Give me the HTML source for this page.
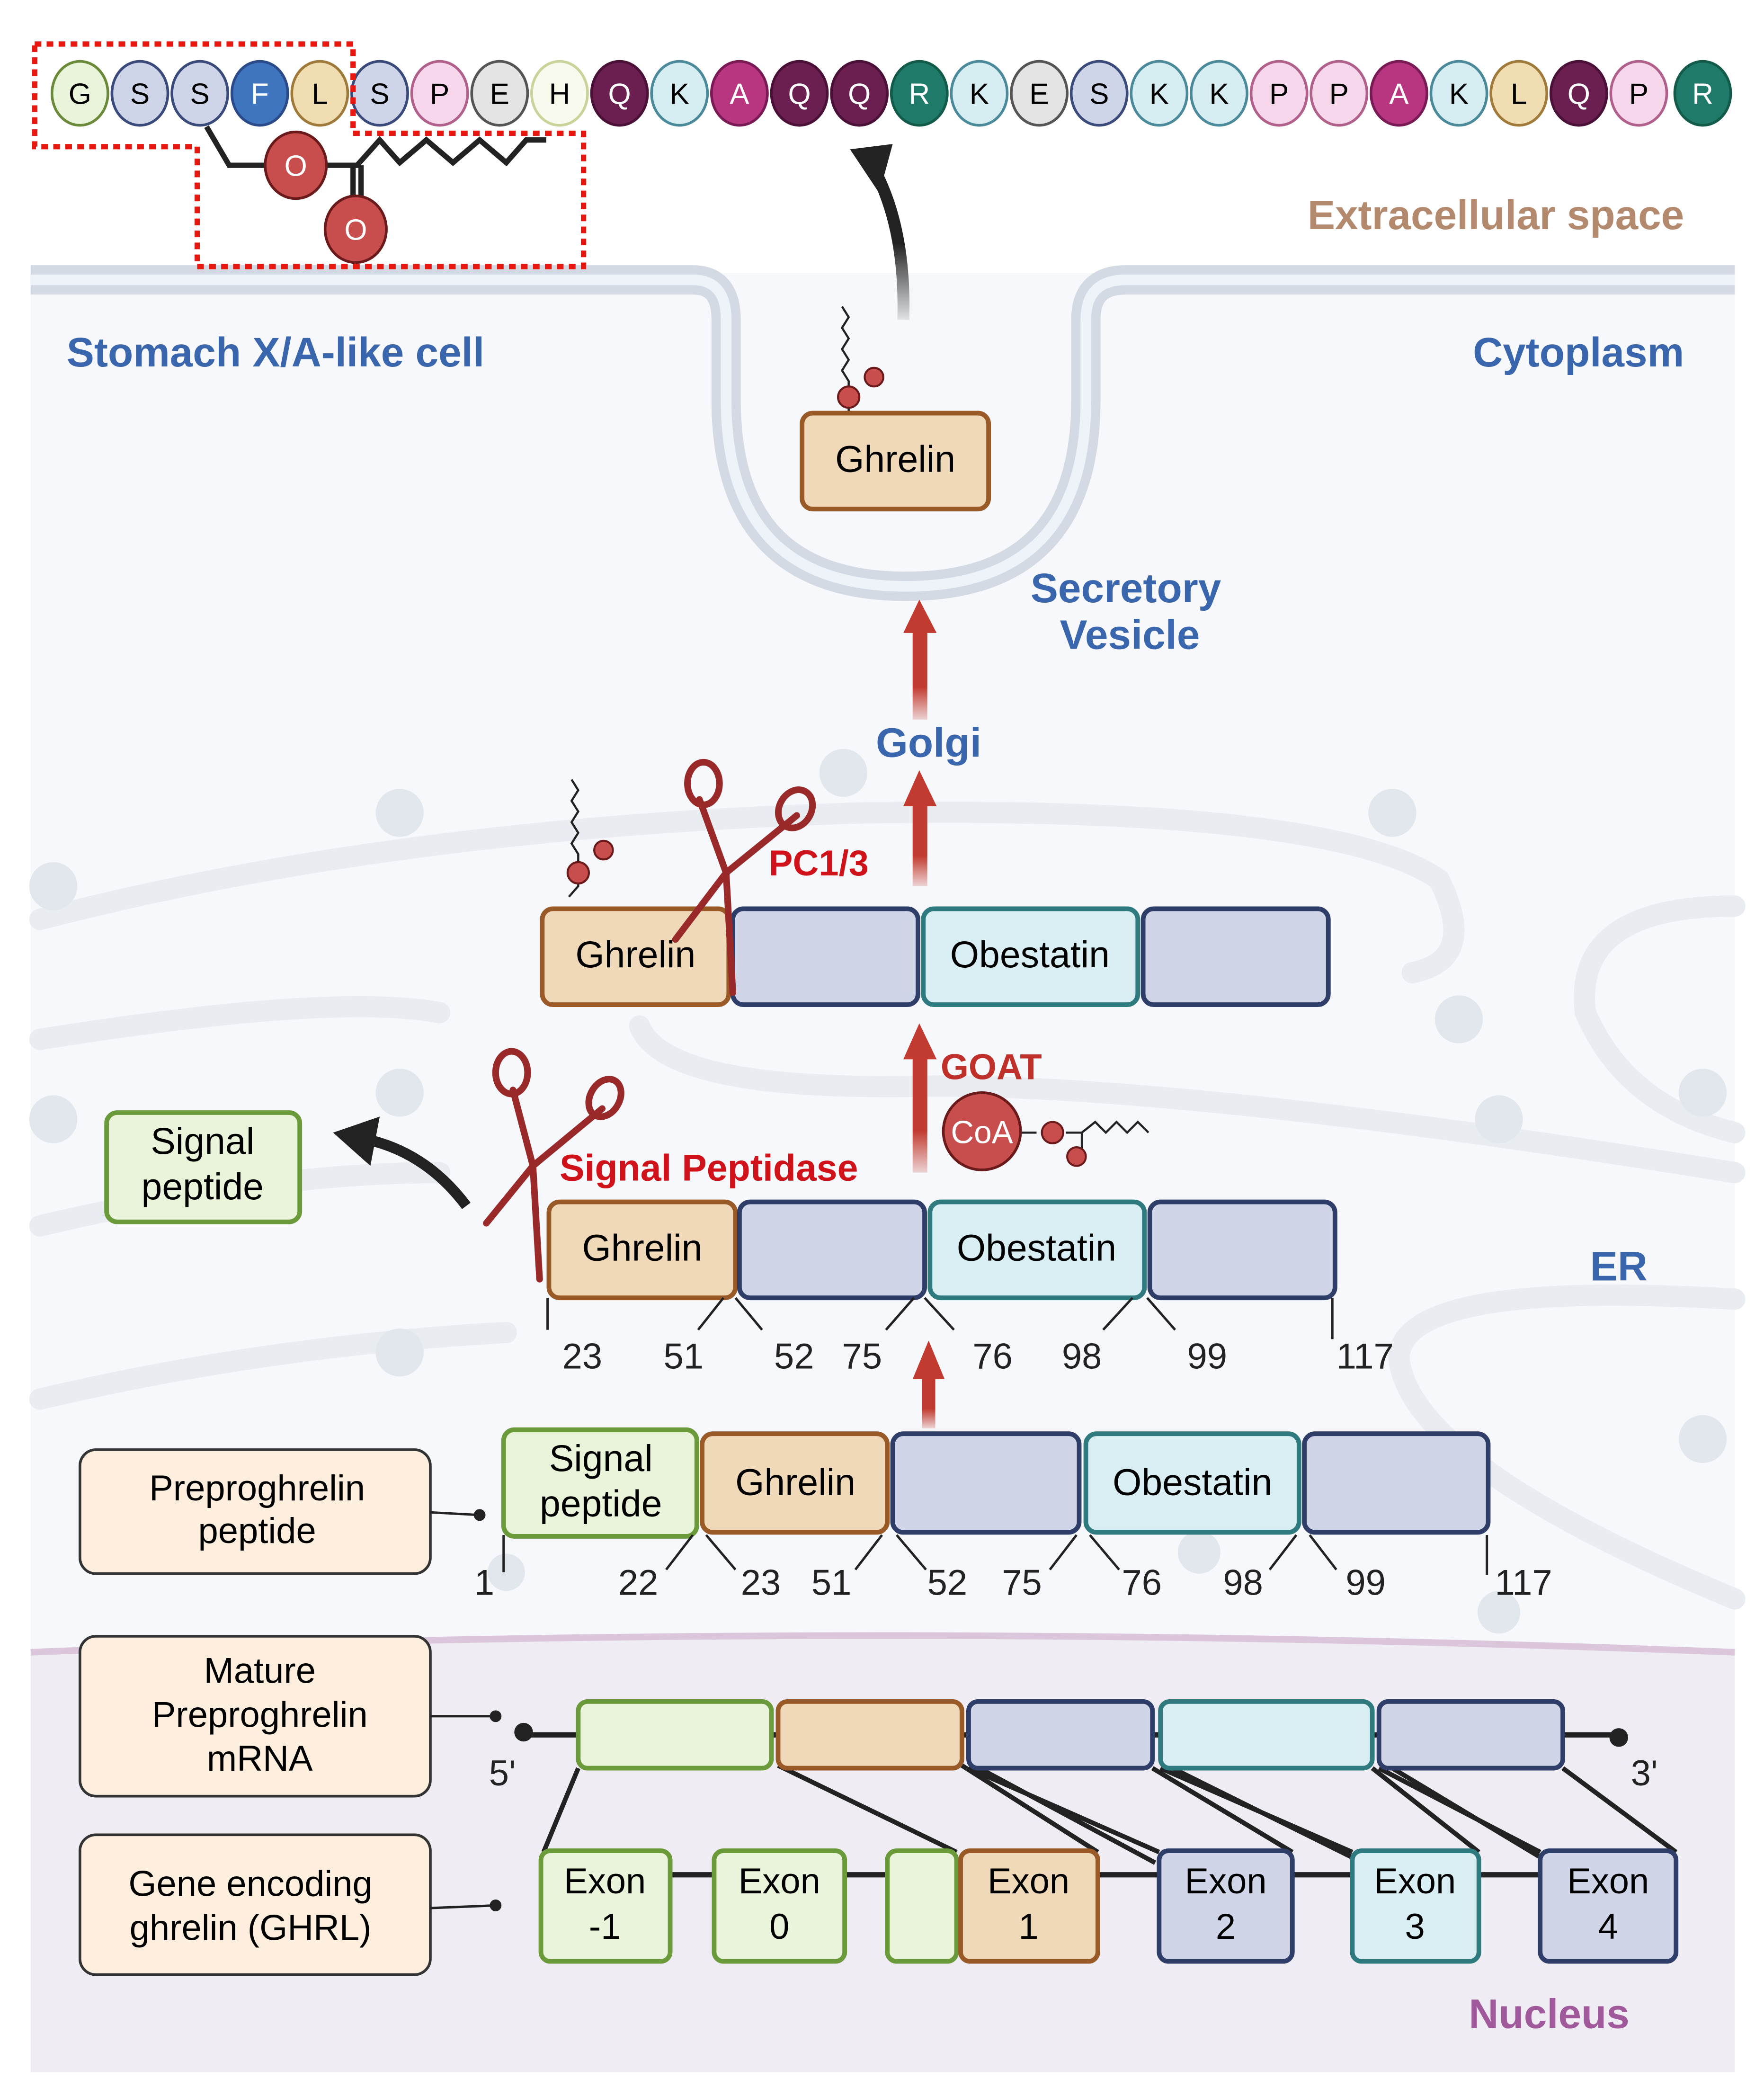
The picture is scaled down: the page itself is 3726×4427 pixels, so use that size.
<!DOCTYPE html>
<html><head><meta charset="utf-8"><style>
html,body{margin:0;padding:0;background:#fff}
svg{display:block}
text{font-family:"Liberation Sans",sans-serif}
</style></head><body>
<svg width="3726" height="4427" viewBox="0 0 1324 1573" xmlns="http://www.w3.org/2000/svg">
<defs>
<linearGradient id="ra" x1="0" y1="1" x2="0" y2="0"><stop offset="0" stop-color="#c23b30" stop-opacity="0.2"/><stop offset="0.35" stop-color="#c23b30"/></linearGradient>
<linearGradient id="ba" x1="0" y1="1" x2="0" y2="0"><stop offset="0" stop-color="#222" stop-opacity="0.1"/><stop offset="0.5" stop-color="#222"/></linearGradient>
</defs>
<!-- cell -->
<rect x="23" y="205" width="1279" height="1350" fill="#f6f8fb"/>
<path d="M23 1240 Q660 1215 1302 1240 L1302 1555 L23 1555Z" fill="#efedf3"/>
<path d="M23 1240 Q660 1215 1302 1240" fill="none" stroke="#dcc6db" stroke-width="5"/>
<!-- membrane -->
<path d="M23 210 L520 210 Q545 210 545 240 L545 300 Q545 440 680 440 Q815 440 815 300 L815 240 Q815 210 845 210 L1302 210" fill="none" stroke="#d3dae3" stroke-width="22"/>
<path d="M23 210 L520 210 Q545 210 545 240 L545 300 Q545 440 680 440 Q815 440 815 300 L815 240 Q815 210 845 210 L1302 210" fill="none" stroke="#eef3fa" stroke-width="8"/>
<!-- golgi / ER curves -->
<g fill="none" stroke="#e9ecf1" stroke-width="16" stroke-linecap="round">
<path d="M30 690 Q300 620 650 610 Q1000 605 1080 660 Q1110 720 1060 730"/>
<path d="M30 780 Q250 745 330 760"/>
<path d="M30 920 Q200 880 330 880"/>
<path d="M480 770 Q500 820 700 815 Q900 815 1302 880"/>
<path d="M30 1050 Q200 1010 380 1000"/>
<path d="M1302 680 Q1180 680 1190 760 Q1220 830 1302 850"/>
<path d="M1302 975 Q1050 960 1050 1020 Q1060 1100 1302 1200"/>
</g>
<g fill="#e2e7ee">
<circle cx="300" cy="610" r="18"/><circle cx="633" cy="580" r="18"/><circle cx="1045" cy="610" r="18"/><circle cx="40" cy="665" r="18"/>
<circle cx="300" cy="820" r="18"/><circle cx="40" cy="840" r="18"/><circle cx="1095" cy="765" r="18"/><circle cx="1125" cy="840" r="18"/><circle cx="1278" cy="820" r="18"/>
<circle cx="300" cy="1015" r="18"/><circle cx="1278" cy="1080" r="18"/><circle cx="380" cy="1180" r="14"/><circle cx="900" cy="1165" r="16"/><circle cx="1125" cy="1210" r="16"/>
</g>
<!-- labels -->
<text x="1264" y="172" text-anchor="end" font-size="31" font-weight="bold" fill="#b48a6e">Extracellular space</text>
<text x="50" y="275" font-size="31" font-weight="bold" fill="#3a66ad">Stomach X/A-like cell</text>
<text x="1264" y="275" text-anchor="end" font-size="31" font-weight="bold" fill="#3a66ad">Cytoplasm</text>
<text x="845" y="452" text-anchor="middle" font-size="31" font-weight="bold" fill="#3a66ad">Secretory</text>
<text x="848" y="487" text-anchor="middle" font-size="31" font-weight="bold" fill="#3a66ad">Vesicle</text>
<text x="697" y="568" text-anchor="middle" font-size="31" font-weight="bold" fill="#3a66ad">Golgi</text>
<text x="1215" y="961" text-anchor="middle" font-size="31" font-weight="bold" fill="#3a66ad">ER</text>
<text x="1223" y="1522" text-anchor="end" font-size="31" font-weight="bold" fill="#a05a9c">Nucleus</text>
<!-- amino acids -->
<g font-size="22" text-anchor="middle">
<g id="aa"></g>
</g>
<g stroke-width="2" font-size="22" text-anchor="middle">
<ellipse cx="60" cy="70" rx="21" ry="24" fill="#e9f4da" stroke="#6a8a3a"/><text x="60" y="78">G</text>
<ellipse cx="105" cy="70" rx="21" ry="24" fill="#cfd5e8" stroke="#3a4a7a"/><text x="105" y="78">S</text>
<ellipse cx="150" cy="70" rx="21" ry="24" fill="#cfd5e8" stroke="#3a4a7a"/><text x="150" y="78">S</text>
<ellipse cx="195" cy="70" rx="21" ry="24" fill="#3f74bf" stroke="#2a4a8a"/><text x="195" y="78" fill="#fff">F</text>
<ellipse cx="240" cy="70" rx="21" ry="24" fill="#f0deb2" stroke="#a07a3a"/><text x="240" y="78">L</text>
<ellipse cx="285" cy="70" rx="21" ry="24" fill="#cfd5e8" stroke="#3a4a7a"/><text x="285" y="78">S</text>
<ellipse cx="330" cy="70" rx="21" ry="24" fill="#f6d7ec" stroke="#b0608a"/><text x="330" y="78">P</text>
<ellipse cx="375" cy="70" rx="21" ry="24" fill="#e4e4e4" stroke="#555"/><text x="375" y="78">E</text>
<ellipse cx="420" cy="70" rx="21" ry="24" fill="#f8faee" stroke="#c8d49a"/><text x="420" y="78">H</text>
<ellipse cx="465" cy="70" rx="21" ry="24" fill="#6a1f50" stroke="#4a1038"/><text x="465" y="78" fill="#fff">Q</text>
<ellipse cx="510" cy="70" rx="21" ry="24" fill="#d6eef2" stroke="#4a8a9a"/><text x="510" y="78">K</text>
<ellipse cx="555" cy="70" rx="21" ry="24" fill="#b8357f" stroke="#7a1a55"/><text x="555" y="78" fill="#fff">A</text>
<ellipse cx="600" cy="70" rx="21" ry="24" fill="#6a1f50" stroke="#4a1038"/><text x="600" y="78" fill="#fff">Q</text>
<ellipse cx="645" cy="70" rx="21" ry="24" fill="#6a1f50" stroke="#4a1038"/><text x="645" y="78" fill="#fff">Q</text>
<ellipse cx="690" cy="70" rx="21" ry="24" fill="#1f7a6a" stroke="#125a4a"/><text x="690" y="78" fill="#fff">R</text>
<ellipse cx="735" cy="70" rx="21" ry="24" fill="#d6eef2" stroke="#4a8a9a"/><text x="735" y="78">K</text>
<ellipse cx="780" cy="70" rx="21" ry="24" fill="#e4e4e4" stroke="#555"/><text x="780" y="78">E</text>
<ellipse cx="825" cy="70" rx="21" ry="24" fill="#cfd5e8" stroke="#3a4a7a"/><text x="825" y="78">S</text>
<ellipse cx="870" cy="70" rx="21" ry="24" fill="#d6eef2" stroke="#4a8a9a"/><text x="870" y="78">K</text>
<ellipse cx="915" cy="70" rx="21" ry="24" fill="#d6eef2" stroke="#4a8a9a"/><text x="915" y="78">K</text>
<ellipse cx="960" cy="70" rx="21" ry="24" fill="#f6d7ec" stroke="#b0608a"/><text x="960" y="78">P</text>
<ellipse cx="1005" cy="70" rx="21" ry="24" fill="#f6d7ec" stroke="#b0608a"/><text x="1005" y="78">P</text>
<ellipse cx="1050" cy="70" rx="21" ry="24" fill="#b8357f" stroke="#7a1a55"/><text x="1050" y="78" fill="#fff">A</text>
<ellipse cx="1095" cy="70" rx="21" ry="24" fill="#d6eef2" stroke="#4a8a9a"/><text x="1095" y="78">K</text>
<ellipse cx="1140" cy="70" rx="21" ry="24" fill="#f0deb2" stroke="#a07a3a"/><text x="1140" y="78">L</text>
<ellipse cx="1185" cy="70" rx="21" ry="24" fill="#6a1f50" stroke="#4a1038"/><text x="1185" y="78" fill="#fff">Q</text>
<ellipse cx="1230" cy="70" rx="21" ry="24" fill="#f6d7ec" stroke="#b0608a"/><text x="1230" y="78">P</text>
<ellipse cx="1278" cy="70" rx="21" ry="24" fill="#1f7a6a" stroke="#125a4a"/><text x="1278" y="78" fill="#fff">R</text>
</g>
<!-- red dotted boxes -->
<g fill="none" stroke="#e8170f" stroke-width="4" stroke-dasharray="5 4">
<path d="M26 33 L265 33 L265 100 L438 100 L438 200 L148 200 L148 110 L26 110 Z"/>
</g>
<!-- octanoyl -->
<g stroke="#222" stroke-width="4" fill="none">
<path d="M155 95 L172 124 L205 124 M240 124 L268 124 L285 105 L300 122 L320 105 L340 122 L360 105 L380 122 L395 105 L410 105"/>
<path d="M265 124 L265 150 M271 124 L271 150"/>
</g>
<g font-size="22" text-anchor="middle" fill="#fff">
<ellipse cx="222" cy="124" rx="23" ry="25" fill="#c84e4e" stroke="#6a1a1a" stroke-width="2"/><text x="222" y="132">O</text>
<ellipse cx="267" cy="172" rx="23" ry="25" fill="#c84e4e" stroke="#6a1a1a" stroke-width="2"/><text x="267" y="180">O</text>
</g>
<!-- black curved arrow up -->
<path d="M678 240 Q680 170 655 125" fill="none" stroke="url(#ba)" stroke-width="9"/>
<path d="M638 112 L670 108 L660 145Z" fill="#222"/>
<path d="M350 905 Q320 865 275 855" fill="none" stroke="#222" stroke-width="8"/>
<path d="M250 850 L285 838 L278 875Z" fill="#222"/>
<!-- small chains -->
<g stroke="#222" stroke-width="1.6" fill="none">
<path d="M632 230 l5 8 -5 8 5 8 -5 8 5 8 -5 8 5 8 0 14 M637 298 l0 12 -7 8"/>
<path d="M429 585 l5 8 -5 8 5 8 -5 8 5 8 -5 8 5 8 0 14 M434 653 l0 12 -7 8"/>
<path d="M766 850 l12 0 M800 850 l12 0 l10 -8 8 8 8 -8 8 8 8 -8 8 8 M812 850 l0 12"/>
</g>
<g fill="#c84e4e" stroke="#6a1a1a" stroke-width="1.5" font-size="9" text-anchor="middle">
<circle cx="656" cy="283" r="7"/><circle cx="637" cy="298" r="8"/>
<circle cx="453" cy="638" r="7"/><circle cx="434" cy="655" r="8"/>
<circle cx="790" cy="850" r="8"/><circle cx="808" cy="868" r="7"/>
</g>
<!-- CoA -->
<circle cx="737" cy="849" r="29" fill="#c84e4e" stroke="#6a1a1a" stroke-width="2"/>
<text x="737" y="858" text-anchor="middle" font-size="24" fill="#fff">CoA</text>
<!-- red arrows -->
<g fill="url(#ra)">
<rect x="685" y="470" width="11" height="70"/><rect x="685" y="600" width="11" height="65"/>
<rect x="685" y="790" width="11" height="90"/><rect x="692" y="1030" width="10" height="42"/>
</g>
<g fill="#c23b30">
<path d="M678 475 L690 450 L703 475Z"/><path d="M678 605 L690 578 L703 605Z"/>
<path d="M678 795 L690 768 L703 795Z"/><path d="M685 1035 L697 1006 L709 1035Z"/>
</g>
<text x="706" y="810" font-size="27" font-weight="bold" fill="#c0302a">GOAT</text>
<text x="577" y="657" font-size="27" font-weight="bold" fill="#d0121a">PC1/3</text>
<text x="420" y="886" font-size="28" font-weight="bold" fill="#d0121a">Signal Peptidase</text>
<!-- vesicle ghrelin -->
<g font-size="28" text-anchor="middle" stroke-width="3.5">
<rect x="602" y="310" width="140" height="72" rx="8" fill="#f0d9b8" stroke="#9a5a28"/><text x="672" y="354">Ghrelin</text>
<!-- row1 -->
<rect x="407" y="682" width="140" height="72" rx="8" fill="#f0d9b8" stroke="#9a5a28"/><text x="477" y="726">Ghrelin</text>
<rect x="550" y="682" width="139" height="72" rx="8" fill="#d0d5e8" stroke="#2f3e68"/>
<rect x="693" y="682" width="161" height="72" rx="8" fill="#d9eff4" stroke="#2e7a7e"/><text x="773" y="726">Obestatin</text>
<rect x="858" y="682" width="139" height="72" rx="8" fill="#d0d5e8" stroke="#2f3e68"/>
<!-- row2 -->
<rect x="412" y="902" width="140" height="72" rx="8" fill="#f0d9b8" stroke="#9a5a28"/><text x="482" y="946">Ghrelin</text>
<rect x="555" y="902" width="139" height="72" rx="8" fill="#d0d5e8" stroke="#2f3e68"/>
<rect x="698" y="902" width="161" height="72" rx="8" fill="#d9eff4" stroke="#2e7a7e"/><text x="778" y="946">Obestatin</text>
<rect x="863" y="902" width="139" height="72" rx="8" fill="#d0d5e8" stroke="#2f3e68"/>
<!-- row3 -->
<rect x="378" y="1073" width="145" height="80" rx="8" fill="#eaf4da" stroke="#6a9a3a"/><text x="451" y="1104">Signal</text><text x="451" y="1138">peptide</text>
<rect x="527" y="1076" width="139" height="74" rx="8" fill="#f0d9b8" stroke="#9a5a28"/><text x="597" y="1122">Ghrelin</text>
<rect x="670" y="1076" width="140" height="74" rx="8" fill="#d0d5e8" stroke="#2f3e68"/>
<rect x="815" y="1076" width="160" height="74" rx="8" fill="#d9eff4" stroke="#2e7a7e"/><text x="895" y="1122">Obestatin</text>
<rect x="979" y="1076" width="138" height="74" rx="8" fill="#d0d5e8" stroke="#2f3e68"/>
<!-- left signal peptide -->
<rect x="80" y="835" width="145" height="82" rx="8" fill="#eaf4da" stroke="#6a9a3a"/><text x="152" y="866">Signal</text><text x="152" y="900">peptide</text>
<!-- left label boxes -->
<g fill="#fdeedd" stroke="#333" stroke-width="2">
<rect x="60" y="1088" width="263" height="93" rx="12"/>
<rect x="60" y="1228" width="263" height="120" rx="12"/>
<rect x="60" y="1377" width="263" height="105" rx="12"/>
</g>
<text x="193" y="1126" font-size="27">Preproghrelin</text><text x="193" y="1158" font-size="27">peptide</text>
<text x="195" y="1263" font-size="27">Mature</text><text x="195" y="1296" font-size="27">Preproghrelin</text><text x="195" y="1329" font-size="27">mRNA</text>
<text x="188" y="1423" font-size="27">Gene encoding</text><text x="188" y="1456" font-size="27">ghrelin (GHRL)</text>
</g>
<g stroke="#222" stroke-width="1.8" fill="#222">
<path d="M323 1135 L360 1137"/><circle cx="360" cy="1137" r="3.5"/>
<path d="M323 1288 L372 1288"/><circle cx="372" cy="1288" r="3.5"/>
<path d="M323 1432 L372 1430"/><circle cx="372" cy="1430" r="3.5"/>
</g>
<!-- tick marks row2 -->
<g stroke="#222" stroke-width="1.8" fill="none">
<path d="M411 974 L411 998"/><path d="M543 974 L524 998 M552 974 L572 998"/>
<path d="M686 974 L665 998 M694 974 L716 998"/><path d="M850 974 L828 998 M861 974 L882 998"/><path d="M1000 974 L1000 1005"/>
<path d="M378 1152 L378 1180"/><path d="M520 1152 L500 1178 M530 1152 L552 1178"/>
<path d="M662 1152 L642 1178 M673 1152 L695 1178"/><path d="M808 1152 L788 1178 M818 1152 L840 1178"/>
<path d="M973 1152 L953 1178 M983 1152 L1003 1178"/><path d="M1116 1152 L1116 1182"/>
</g>
<g font-size="27" fill="#222">
<text x="422" y="1027">23</text><text x="498" y="1027">51</text><text x="581" y="1027">52</text><text x="632" y="1027">75</text>
<text x="730" y="1027">76</text><text x="797" y="1027">98</text><text x="891" y="1027">99</text><text x="1003" y="1027">117</text>
<text x="356" y="1197">1</text><text x="464" y="1197">22</text><text x="556" y="1197">23</text><text x="609" y="1197">51</text>
<text x="696" y="1197">52</text><text x="752" y="1197">75</text><text x="842" y="1197">76</text><text x="918" y="1197">98</text>
<text x="1010" y="1197">99</text><text x="1122" y="1197">117</text>
<text x="367" y="1340">5'</text><text x="1224" y="1340">3'</text>
</g>
<!-- mRNA -->
<path d="M393 1302 L1215 1302" stroke="#222" stroke-width="4"/>
<circle cx="393" cy="1300" r="7" fill="#222"/><circle cx="1215" cy="1304" r="7" fill="#222"/>
<!-- gene line and connectors -->
<path d="M503 1407 L536 1407 M634 1407 L666 1407 M824 1407 L870 1407 M970 1407 L1015 1407 M1110 1407 L1156 1407" stroke="#222" stroke-width="4"/>
<g stroke="#222" stroke-width="3.5" fill="none">
<path d="M434 1327 L408 1390"/><path d="M584 1325 L718 1390"/><path d="M722 1325 L824 1390"/>
<path d="M727 1327 L870 1390 M735 1327 L867 1398 M865 1327 L970 1390"/>
<path d="M871 1327 L1015 1390 M880 1327 L1017 1395 M1030 1327 L1110 1390"/>
<path d="M1035 1327 L1156 1390 M1045 1327 L1158 1395 M1173 1327 L1258 1390"/>
</g>
<g stroke-width="3.5" font-size="27" text-anchor="middle">
<rect x="434" y="1277" width="145" height="50" rx="7" fill="#eaf4da" stroke="#6a9a3a"/>
<rect x="584" y="1277" width="138" height="50" rx="7" fill="#f0d9b8" stroke="#9a5a28"/>
<rect x="727" y="1277" width="138" height="50" rx="7" fill="#d0d5e8" stroke="#2f3e68"/>
<rect x="871" y="1277" width="159" height="50" rx="7" fill="#d9eff4" stroke="#2e7a7e"/>
<rect x="1035" y="1277" width="138" height="50" rx="7" fill="#d0d5e8" stroke="#2f3e68"/>
<rect x="406" y="1389" width="97" height="83" rx="7" fill="#eaf4da" stroke="#6a9a3a"/><text x="454" y="1421">Exon</text><text x="454" y="1455">-1</text>
<rect x="536" y="1389" width="98" height="83" rx="7" fill="#eaf4da" stroke="#6a9a3a"/><text x="585" y="1421">Exon</text><text x="585" y="1455">0</text>
<rect x="666" y="1389" width="52" height="83" rx="7" fill="#eaf4da" stroke="#6a9a3a"/>
<rect x="721" y="1389" width="103" height="83" rx="7" fill="#f0d9b8" stroke="#9a5a28"/><text x="772" y="1421">Exon</text><text x="772" y="1455">1</text>
<rect x="870" y="1389" width="100" height="83" rx="7" fill="#d0d5e8" stroke="#2f3e68"/><text x="920" y="1421">Exon</text><text x="920" y="1455">2</text>
<rect x="1015" y="1389" width="95" height="83" rx="7" fill="#d9eff4" stroke="#2e7a7e"/><text x="1062" y="1421">Exon</text><text x="1062" y="1455">3</text>
<rect x="1156" y="1389" width="102" height="83" rx="7" fill="#d0d5e8" stroke="#2f3e68"/><text x="1207" y="1421">Exon</text><text x="1207" y="1455">4</text>
</g>
<!-- scissors -->
<g stroke="#9a2a2a" stroke-width="5" fill="none" stroke-linecap="round">
<path d="M525 600 L545 655 L550 745"/><path d="M598 612 L545 655 L507 705"/>
<ellipse cx="528" cy="588" rx="12" ry="16"/><ellipse cx="597" cy="607" rx="12" ry="15" transform="rotate(30 597 607)"/>
<path d="M385 818 L400 875 L405 960"/><path d="M452 832 L400 875 L365 918"/>
<ellipse cx="384" cy="805" rx="12" ry="16"/><ellipse cx="454" cy="824" rx="11" ry="15" transform="rotate(30 454 824)"/>
</g>
</svg>
</body></html>
